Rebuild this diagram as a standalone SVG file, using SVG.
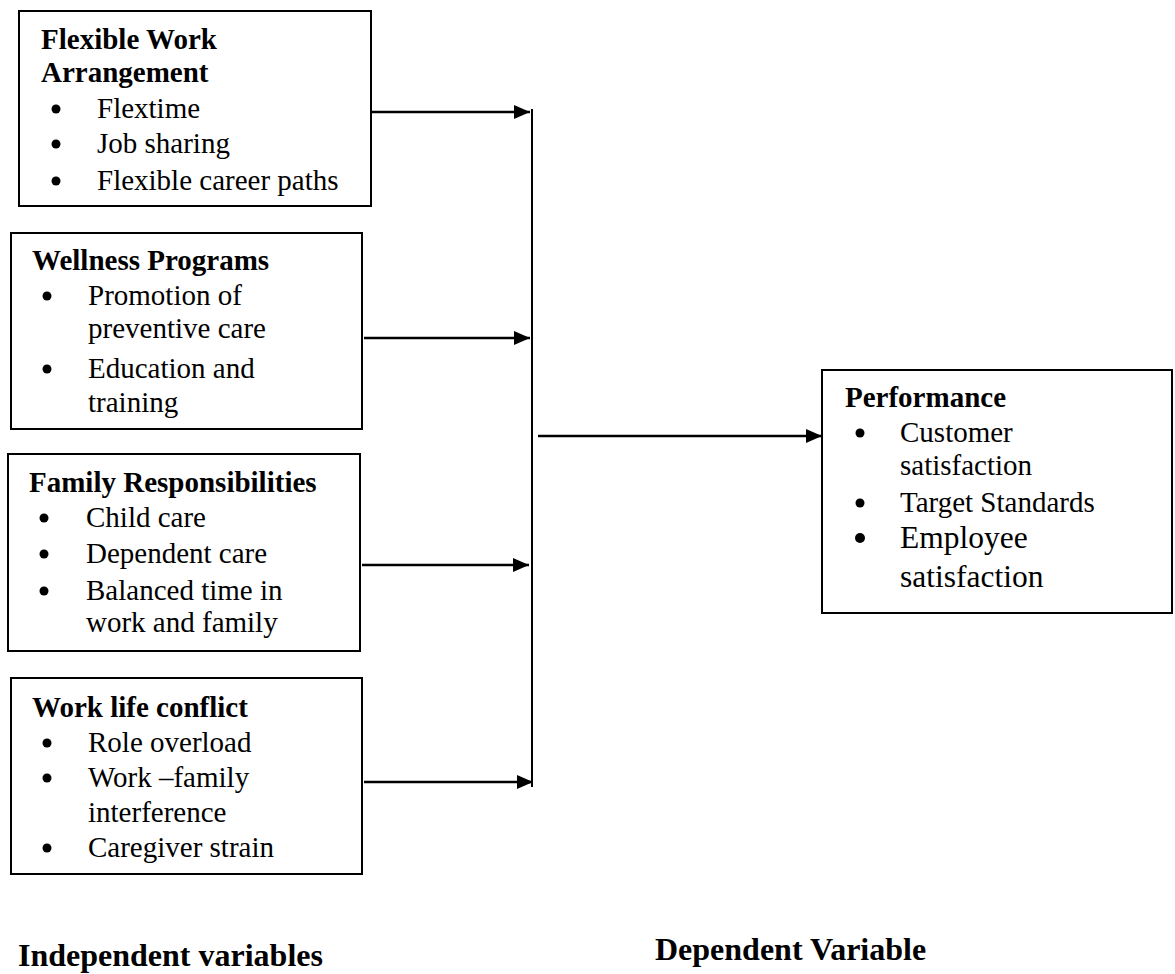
<svg xmlns="http://www.w3.org/2000/svg" width="1175" height="974" viewBox="0 0 1175 974">
<style>
.box{fill:#fff;stroke:#000;stroke-width:2}
.h{font-family:"Liberation Serif","Times New Roman",serif;font-weight:bold;font-size:29px;fill:#000}
.t{font-family:"Liberation Serif","Times New Roman",serif;font-size:29px;fill:#000}
.t2{font-family:"Liberation Serif","Times New Roman",serif;font-size:31.5px;fill:#000}
.lbl{font-family:"Liberation Serif","Times New Roman",serif;font-weight:bold;font-size:32px;fill:#000}
.con{stroke:#000;stroke-width:2.5;fill:none}
.vl{stroke:#000;stroke-width:2;fill:none}
</style>
<defs>
<marker id="ah" markerUnits="userSpaceOnUse" markerWidth="16" markerHeight="14" refX="16" refY="7" orient="auto">
<path d="M0,0 L16,7 L0,14 z" fill="#000"/>
</marker>
</defs>
<rect width="1175" height="974" fill="#fff"/>
<g id="connectors">
<line class="con" x1="372" y1="112" x2="530" y2="112" marker-end="url(#ah)"/>
<line class="con" x1="364" y1="338" x2="530" y2="338" marker-end="url(#ah)"/>
<line class="con" x1="362" y1="565" x2="529" y2="565" marker-end="url(#ah)"/>
<line class="con" x1="364" y1="782" x2="533" y2="782" marker-end="url(#ah)"/>
<line class="vl" x1="532" y1="109" x2="532" y2="787"/>
<line class="con" x1="538" y1="436" x2="822" y2="436" marker-end="url(#ah)"/>
</g>
<g id="flexible-work">
<rect class="box" x="19" y="11" width="352" height="195"/>
<text class="h" x="41" y="49">Flexible Work</text>
<text class="h" x="41" y="82">Arrangement</text>
<circle cx="56" cy="109" r="4.5"/><text class="t" x="97" y="118">Flextime</text>
<circle cx="56" cy="144" r="4.5"/><text class="t" x="97" y="153">Job sharing</text>
<circle cx="56" cy="181" r="4.5"/><text class="t" x="97" y="190">Flexible career paths</text>
</g>
<g id="wellness">
<rect class="box" x="11" y="233" width="351" height="196"/>
<text class="h" x="32" y="270">Wellness Programs</text>
<circle cx="47" cy="296" r="4.5"/><text class="t" x="88" y="305">Promotion of</text>
<text class="t" x="88" y="338">preventive care</text>
<circle cx="47" cy="369" r="4.5"/><text class="t" x="88" y="378">Education and</text>
<text class="t" x="88" y="412">training</text>
</g>
<g id="family">
<rect class="box" x="8" y="454" width="352" height="197"/>
<text class="h" x="29" y="492">Family Responsibilities</text>
<circle cx="44" cy="518" r="4.5"/><text class="t" x="86" y="527">Child care</text>
<circle cx="44" cy="554" r="4.5"/><text class="t" x="86" y="563">Dependent care</text>
<circle cx="44" cy="591" r="4.5"/><text class="t" x="86" y="600">Balanced time in</text>
<text class="t" x="86" y="632">work and family</text>
</g>
<g id="worklife">
<rect class="box" x="11" y="678" width="351" height="196"/>
<text class="h" x="32" y="717">Work life conflict</text>
<circle cx="47" cy="743" r="4.5"/><text class="t" x="88" y="752">Role overload</text>
<circle cx="47" cy="778" r="4.5"/><text class="t" x="88" y="787">Work –family</text>
<text class="t" x="88" y="822">interference</text>
<circle cx="47" cy="848" r="4.5"/><text class="t" x="88" y="857">Caregiver strain</text>
</g>
<g id="performance">
<rect class="box" x="822" y="370" width="350" height="243"/>
<text class="h" x="845" y="407">Performance</text>
<circle cx="860" cy="433" r="4.5"/><text class="t" x="900" y="442">Customer</text>
<text class="t" x="900" y="475">satisfaction</text>
<circle cx="860" cy="503" r="4.5"/><text class="t" x="900" y="512">Target Standards</text>
<circle cx="860" cy="538" r="5"/><text class="t2" x="900" y="548">Employee</text>
<text class="t2" x="900" y="587">satisfaction</text>
</g>
<g id="labels">
<text class="lbl" x="18" y="966">Independent variables</text>
<text class="lbl" x="655" y="960">Dependent Variable</text>
</g>
</svg>
